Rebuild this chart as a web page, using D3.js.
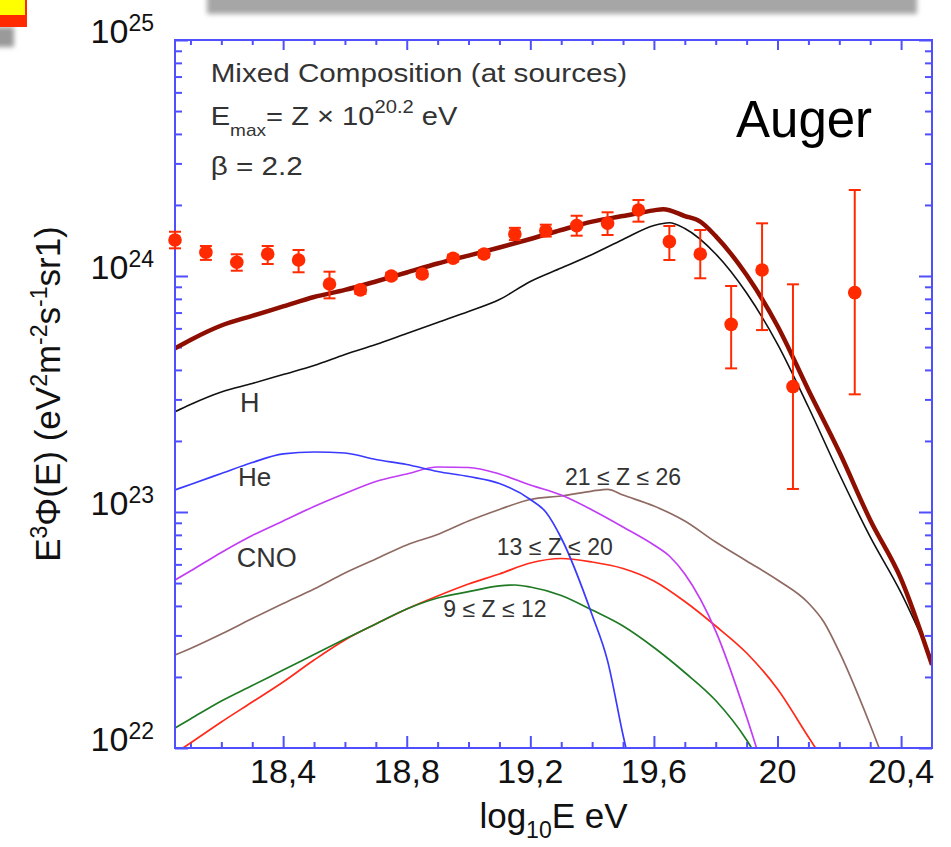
<!DOCTYPE html>
<html>
<head>
<meta charset="utf-8">
<script src="https://cdn.jsdelivr.net/npm/d3@7"></script>
<style>
  body { margin: 0; background: #fff; }
  svg { display: block; font-family: "Liberation Sans", Arial, Helvetica, sans-serif; }
</style>
</head>
<body>
<svg id="chart" width="951" height="847"></svg>
<script>
// ---- Auger spectrum points (log10 E, E^3 flux, error band) ----
const dataLgE = [18.05, 18.15, 18.25, 18.35, 18.45, 18.55, 18.65, 18.75, 18.85, 18.95, 19.05,
                 19.15, 19.25, 19.35, 19.45, 19.55, 19.65, 19.75, 19.85, 19.95, 20.05, 20.25];
const dataFlux = [1.42e24, 1.26e24, 1.143e24, 1.24e24, 1.169e24, 0.925e24, 0.873e24, 1.0e24, 1.02e24, 1.189e24, 1.24e24,
                  1.506e24, 1.556e24, 1.634e24, 1.672e24, 1.905e24, 1.398e24, 1.24e24, 0.624e24, 1.06e24, 0.34e24, 0.85e24];
const dataLow  = [1.31e24, 1.17e24, 1.053e24, 1.124e24, 1.037e24, 0.804e24, 0.84e24, 0.97e24, 0.99e24, 1.15e24, 1.20e24,
                  1.42e24, 1.47e24, 1.482e24, 1.492e24, 1.699e24, 1.169e24, 0.978e24, 0.406e24, 0.59e24, 0.1252e24, 0.3152e24];
const dataHigh = [1.54e24, 1.34e24, 1.236e24, 1.34e24, 1.289e24, 1.043e24, 0.905e24, 1.03e24, 1.05e24, 1.23e24, 1.28e24,
                  1.60e24, 1.65e24, 1.80e24, 1.862e24, 2.099e24, 1.629e24, 1.566e24, 0.907e24, 1.672e24, 0.922e24, 2.314e24];

// ---- Model: total and per-group contributions ----
const totalLgE = [18.05, 18.1, 18.2, 18.3, 18.4, 18.5, 18.6, 18.7, 18.8, 18.9, 19.0, 19.1, 19.2, 19.3, 19.4, 19.5,
                  19.6, 19.63, 19.7, 19.75, 19.8, 19.9, 20.0, 20.1, 20.2, 20.3, 20.4, 20.5];
const totalFlux = [4.94e23, 5.36e23, 6.17e23, 6.78e23, 7.43e23, 8.15e23, 8.73e23, 9.48e23, 1.035e24, 1.13e24, 1.22e24,
                   1.32e24, 1.435e24, 1.567e24, 1.70e24, 1.795e24, 1.897e24, 1.92e24, 1.795e24, 1.70e24, 1.476e24,
                   1.009e24, 6.14e23, 3.29e23, 1.795e23, 9.25e22, 5.2e22, 2.25e22];

const hLgE = [18.05, 18.1, 18.2, 18.3, 18.4, 18.5, 18.6, 18.7, 18.8, 18.9, 19.0, 19.1, 19.2, 19.3, 19.4, 19.5,
              19.6, 19.65, 19.7, 19.8, 19.9, 20.0, 20.1, 20.2, 20.3, 20.4, 20.5];
const hFlux = [2.66e23, 2.855e23, 3.225e23, 3.504e23, 3.824e23, 4.176e23, 4.65e23, 5.125e23, 5.706e23, 6.353e23,
               7.073e23, 7.951e23, 9.48e23, 1.081e24, 1.234e24, 1.428e24, 1.637e24, 1.682e24, 1.59e24, 1.24e24,
               8.47e23, 5.15e23, 2.786e23, 1.449e23, 7.84e22, 4.54e22, 2.36e22];

const heLgE = [18.05, 18.1, 18.2, 18.3, 18.4, 18.5, 18.6, 18.7, 18.8, 18.9, 19.0, 19.1, 19.2, 19.25, 19.3, 19.4,
               19.45, 19.5, 19.55];
const heFlux = [1.24e23, 1.308e23, 1.456e23, 1.621e23, 1.762e23, 1.796e23, 1.778e23, 1.669e23, 1.59e23, 1.485e23,
                1.414e23, 1.321e23, 1.13e23, 1.0e23, 7.76e22, 3.66e22, 2.34e22, 1.135e22, 6e21];

const cnoLgE = [18.05, 18.1, 18.2, 18.3, 18.4, 18.5, 18.6, 18.7, 18.8, 18.9, 19.0, 19.1, 19.2, 19.3, 19.4, 19.5,
                19.6, 19.65, 19.7, 19.8, 19.9, 20.0];
const cnoFlux = [5.15e22, 5.62e22, 6.74e22, 7.95e22, 9.16e22, 1.055e23, 1.198e23, 1.347e23, 1.449e23, 1.551e23,
                 1.544e23, 1.449e23, 1.301e23, 1.18e23, 1.02e23, 8.64e22, 7.25e22, 6.51e22, 5.46e22, 3.13e22,
                 1.353e22, 5.1e21];

const z9LgE = [18.05, 18.1, 18.2, 18.3, 18.4, 18.5, 18.6, 18.7, 18.8, 18.9, 19.0, 19.1, 19.15, 19.2, 19.3, 19.4,
               19.5, 19.6, 19.7, 19.8, 19.9, 20.0];
const z9Flux = [1.215e22, 1.327e22, 1.582e22, 1.84e22, 2.141e22, 2.49e22, 2.896e22, 3.353e22, 3.882e22, 4.32e22,
                4.595e22, 4.86e22, 4.906e22, 4.81e22, 4.43e22, 3.843e22, 3.288e22, 2.666e22, 2.089e22, 1.589e22,
                1.081e22, 6.3e21];

const z13LgE = [18.05, 18.1, 18.2, 18.3, 18.4, 18.5, 18.6, 18.7, 18.8, 18.9, 19.0, 19.1, 19.2, 19.3, 19.4, 19.5,
                19.6, 19.7, 19.8, 19.9, 20.0, 20.1, 20.2];
const z13Flux = [9.5e21, 1.05e22, 1.289e22, 1.566e22, 1.904e22, 2.36e22, 2.87e22, 3.353e22, 3.882e22, 4.408e22,
                 4.955e22, 5.463e22, 6.08e22, 6.353e22, 6.14e22, 5.763e22, 5.1e22, 4.176e22, 3.288e22, 2.527e22,
                 1.778e22, 1.113e22, 7e21];

const z21LgE = [18.05, 18.1, 18.2, 18.3, 18.4, 18.5, 18.6, 18.7, 18.8, 18.9, 19.0, 19.1, 19.2, 19.3, 19.4, 19.45,
                19.5, 19.6, 19.7, 19.8, 19.9, 20.0, 20.1, 20.15, 20.2, 20.3, 20.4];
const z21Flux = [2.478e22, 2.64e22, 3.04e22, 3.538e22, 4.096e22, 4.72e22, 5.514e22, 6.32e22, 7.25e22, 8.03e22,
                 9.16e22, 1.025e23, 1.13e23, 1.169e23, 1.227e23, 1.248e23, 1.18e23, 1.06e23, 9.16e22, 7.46e22,
                 6.2e22, 5.15e22, 4.115e22, 3.42e22, 2.552e22, 1.252e22, 5.6e21];

// ---- Axis ticks and labels ----
const xMajorTicks = [18.4, 18.8, 19.2, 19.6, 20.0, 20.4];
const xMinorTicks = [18.1, 18.2, 18.3, 18.5, 18.6, 18.7, 18.9, 19.0, 19.1, 19.3, 19.4, 19.5,
                     19.7, 19.8, 19.9, 20.1, 20.2, 20.3];
const xTickLabels = ["18,4", "18,8", "19,2", "19,6", "20", "20,4"];
const yDecades = [22, 23, 24, 25];

// ---- Layout ----
const svg = d3.select("#chart");
const plot = { left: 175, right: 932, top: 40, bottom: 748 };
const axisBlue = "#4f4fff";
const textGrey = "#333";

const x = d3.scaleLinear().domain([18.05, 20.5]).range([plot.left, plot.right]);
const y = d3.scaleLog().domain([1e22, 1e25]).range([plot.bottom, plot.top]);

// soft-edged decorations along the top of the page
const defs = svg.append("defs");
defs.append("filter").attr("id", "soft").attr("x", "-20%").attr("y", "-50%").attr("width", "140%").attr("height", "200%")
  .append("feGaussianBlur").attr("stdDeviation", 2.6);
defs.append("clipPath").attr("id", "plotClip")
  .append("rect").attr("x", plot.left).attr("y", plot.top)
  .attr("width", plot.right - plot.left).attr("height", plot.bottom - plot.top);

svg.append("rect").attr("x", 207).attr("y", -12).attr("width", 710).attr("height", 26)
  .attr("fill", "#a6a6a6").attr("filter", "url(#soft)");
svg.append("rect").attr("x", -14).attr("y", 27).attr("width", 28).attr("height", 20)
  .attr("fill", "#9a9a9a").attr("filter", "url(#soft)");
svg.append("rect").attr("x", 0).attr("y", 0).attr("width", 27).attr("height", 27).attr("fill", "#ff2a00");
svg.append("rect").attr("x", 0).attr("y", 0).attr("width", 25).attr("height", 15).attr("fill", "#ffff00");

// ---- Ticks (all pointing inward) ----
function tickAxis(gen, tx, ty) {
  const g = svg.append("g").attr("transform", `translate(${tx},${ty})`).call(gen);
  g.select(".domain").remove();
  g.selectAll("text").remove();
  g.selectAll("line").attr("stroke", axisBlue).attr("stroke-width", 2);
  return g;
}
const yMinorTicks = [];
[22, 23, 24].forEach(d => { for (let m = 2; m <= 9; m++) yMinorTicks.push(m * Math.pow(10, d)); });
const yMajorTicks = yDecades.map(d => Math.pow(10, d));

tickAxis(d3.axisBottom(x).tickValues(xMinorTicks).tickSize(-6), 0, plot.bottom);
tickAxis(d3.axisBottom(x).tickValues(xMajorTicks).tickSize(-12), 0, plot.bottom);
tickAxis(d3.axisTop(x).tickValues(xMinorTicks).tickSize(-5), 0, plot.top);
tickAxis(d3.axisTop(x).tickValues(xMajorTicks).tickSize(-10), 0, plot.top);
tickAxis(d3.axisLeft(y).tickValues(yMinorTicks).tickSize(-7), plot.left, 0);
tickAxis(d3.axisLeft(y).tickValues(yMajorTicks).tickSize(-13), plot.left, 0);
tickAxis(d3.axisRight(y).tickValues(yMinorTicks).tickSize(-7), plot.right, 0);
tickAxis(d3.axisRight(y).tickValues(yMajorTicks).tickSize(-13), plot.right, 0);

// ---- Model curves ----
const line = d3.line().x(d => x(d[0])).y(d => y(d[1])).curve(d3.curveMonotoneX);
const zip = (a, b) => a.map((v, i) => [v, b[i]]);
const curves = svg.append("g").attr("clip-path", "url(#plotClip)").attr("fill", "none");
const components = [
  { lgE: z21LgE, flux: z21Flux, color: "#8f6a62", width: 1.7 },
  { lgE: z13LgE, flux: z13Flux, color: "#ff2a1a", width: 1.7 },
  { lgE: z9LgE,  flux: z9Flux,  color: "#1f7a24", width: 1.7 },
  { lgE: cnoLgE, flux: cnoFlux, color: "#c23cf5", width: 1.7 },
  { lgE: heLgE,  flux: heFlux,  color: "#3a3aff", width: 1.7 },
  { lgE: hLgE,   flux: hFlux,   color: "#111111", width: 1.6 },
  { lgE: totalLgE, flux: totalFlux, color: "#8e0f00", width: 4.5 }
];
components.forEach(c => {
  curves.append("path").datum(zip(c.lgE, c.flux)).attr("d", line)
    .attr("stroke", c.color).attr("stroke-width", c.width).attr("stroke-linejoin", "round");
});

// ---- Plot frame ----
svg.append("rect").attr("x", plot.left).attr("y", plot.top)
  .attr("width", plot.right - plot.left).attr("height", plot.bottom - plot.top)
  .attr("fill", "none").attr("stroke", axisBlue).attr("stroke-width", 2);

// ---- Data points with error bars ----
const pts = dataLgE.map((e, i) => ({ e, v: dataFlux[i], lo: dataLow[i], hi: dataHigh[i] }));
const pg = svg.append("g");
const dotRed = "#ff2a00";
pg.selectAll("line.err").data(pts).join("line").attr("class", "err")
  .attr("x1", d => x(d.e)).attr("x2", d => x(d.e)).attr("y1", d => y(d.lo)).attr("y2", d => y(d.hi))
  .attr("stroke", dotRed).attr("stroke-width", 2);
["lo", "hi"].forEach(k => {
  pg.selectAll("line.cap" + k).data(pts).join("line").attr("class", "cap" + k)
    .attr("x1", d => x(d.e) - 6).attr("x2", d => x(d.e) + 6).attr("y1", d => y(d[k])).attr("y2", d => y(d[k]))
    .attr("stroke", dotRed).attr("stroke-width", 2);
});
pg.selectAll("circle").data(pts).join("circle")
  .attr("cx", d => x(d.e)).attr("cy", d => y(d.v)).attr("r", 6.8).attr("fill", dotRed);

// ---- Tick labels ----
svg.append("g").selectAll("text").data(xMajorTicks).join("text")
  .attr("x", d => x(d)).attr("y", 783).attr("text-anchor", "middle")
  .attr("font-size", 34).attr("fill", "#111").text((d, i) => xTickLabels[i]);

const yl = svg.append("g").selectAll("text").data(yDecades).join("text")
  .attr("x", 154).attr("y", d => y(Math.pow(10, d)) + 3).attr("text-anchor", "end")
  .attr("font-size", 34).attr("fill", "#111");
yl.append("tspan").text("10");
yl.append("tspan").attr("font-size", 23).attr("dy", -12).text(d => d);

// ---- Axis titles ----
const xt = svg.append("text").attr("x", (plot.left + plot.right) / 2).attr("y", 828)
  .attr("text-anchor", "middle").attr("font-size", 35).attr("fill", "#111");
xt.append("tspan").text("log");
xt.append("tspan").attr("font-size", 23).attr("dy", 10).text("10");
xt.append("tspan").attr("dy", -10).text("E eV");

const ytitle = svg.append("text").attr("transform", `translate(60,${(plot.top + plot.bottom) / 2}) rotate(-90)`)
  .attr("text-anchor", "middle").attr("font-size", 35).attr("fill", "#111");
[["E", 0], ["3", 1], ["Φ(E) (eV", 0], ["2", 1], ["m", 0], ["-2", 1], ["s", 0], ["-1", 1], ["sr1)", 0]]
  .forEach(([t, sup], i, arr) => {
    const prevSup = i > 0 && arr[i - 1][1];
    const ts = ytitle.append("tspan").text(t);
    if (sup) ts.attr("font-size", 23).attr("dy", -13);
    else if (prevSup) ts.attr("dy", 13);
  });

// ---- Annotations ----
function wideText(px, py, sx) {
  return svg.append("g").attr("transform", `translate(${px},${py}) scale(${sx},1)`)
    .append("text").attr("font-size", 26).attr("fill", textGrey);
}
wideText(210.7, 81.7, 1.14).text("Mixed Composition (at sources)");
const emax = wideText(210.7, 125, 1.12);
emax.append("tspan").text("E");
emax.append("tspan").attr("font-size", 17).attr("dy", 11).text("max");
emax.append("tspan").attr("dy", -11).text("= Z × 10");
emax.append("tspan").attr("font-size", 18).attr("dy", -12).text("20.2");
emax.append("tspan").attr("dy", 12).text(" eV");
wideText(210.7, 175, 1.14).text("β = 2.2");

svg.append("text").attr("x", 736).attr("y", 136.7).attr("font-size", 51).attr("fill", "#000").text("Auger");

const curveLabels = [
  { t: "H", x: 240, y: 411.7, s: 27 },
  { t: "He", x: 238, y: 486, s: 26 },
  { t: "CNO", x: 236.7, y: 566.7, s: 27 },
  { t: "21 ≤ Z ≤ 26", x: 565, y: 485, s: 23 },
  { t: "13 ≤ Z ≤ 20", x: 496.7, y: 555, s: 23 },
  { t: "9 ≤ Z ≤ 12", x: 443.3, y: 616.7, s: 23 }
];
svg.append("g").selectAll("text").data(curveLabels).join("text")
  .attr("x", d => d.x).attr("y", d => d.y).attr("font-size", d => d.s).attr("fill", textGrey).text(d => d.t);
</script>
</body>
</html>
